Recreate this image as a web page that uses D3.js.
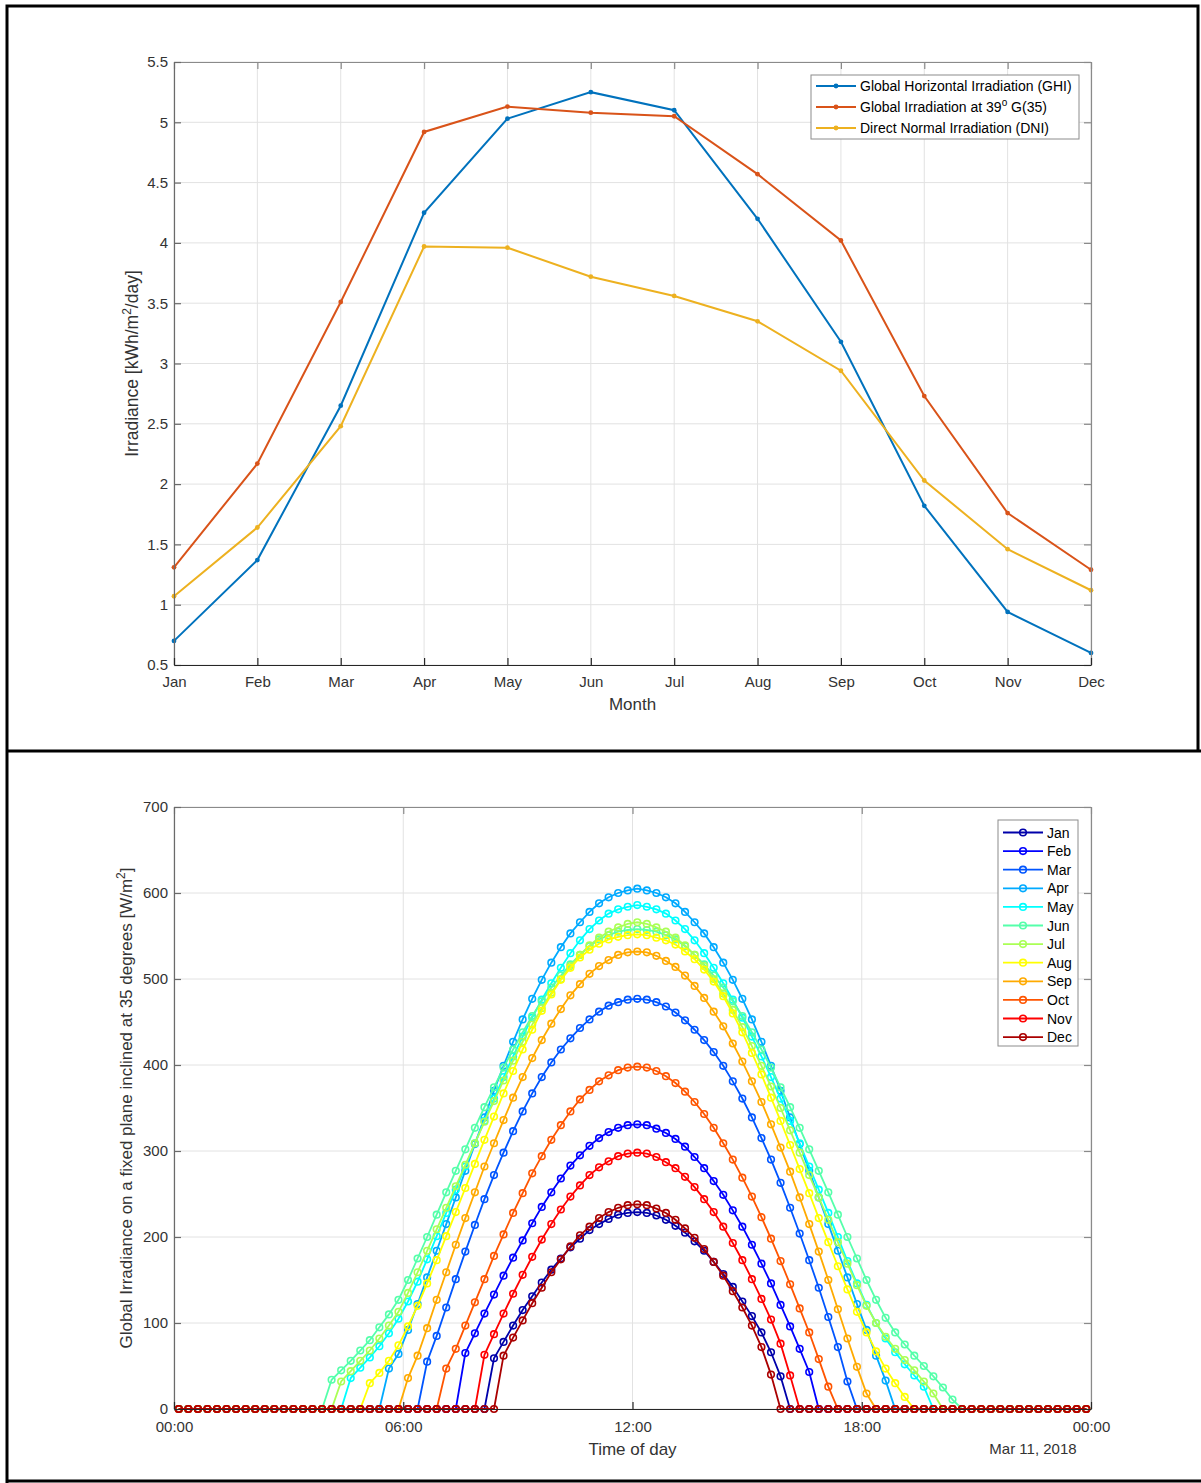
<!DOCTYPE html>
<html>
<head>
<meta charset="utf-8">
<script src="https://cdn.jsdelivr.net/npm/d3@7"></script>
<style>
  body { margin: 0; background: #fff; }
</style>
</head>
<body>
<script>
// ---- data -------------------------------------------------------------

var months = ["Jan", "Feb", "Mar", "Apr", "May", "Jun", "Jul", "Aug", "Sep", "Oct", "Nov", "Dec"];

// monthly mean daily irradiation, kWh/m2/day
var ghi = [0.70, 1.37, 2.65, 4.25, 5.03, 5.25, 5.10, 4.20, 3.18, 1.82, 0.94, 0.60];
var g35 = [1.31, 2.17, 3.51, 4.92, 5.13, 5.08, 5.05, 4.57, 4.02, 2.73, 1.76, 1.29];
var dni = [1.07, 1.64, 2.48, 3.97, 3.96, 3.72, 3.56, 3.35, 2.94, 2.03, 1.46, 1.12];

// daily profile on the 35 deg plane, W/m2, one value per 15 min slot
// (slot k is centred at k*15+7.5 min). values start at firstSlot, 0 elsewhere
var firstSlot = [33, 30, 26, 22, 18, 16, 17, 20, 24, 28, 32, 34];

var dayJan = [59,78,97,115,131,147,162,175,188,198,208,215,221,226,228,229,228,225,220,213,205,195,184,171,157,142,125,108,89,66,38];
var dayFeb = [65,88,111,133,155,176,196,216,235,252,268,283,295,306,315,322,327,330,331,330,326,321,314,305,293,280,265,249,231,212,191,169,146,121,96,70,43];
var dayMar = [55,85,118,151,183,214,244,272,298,323,346,367,386,403,418,431,443,453,462,469,473,476,477,476,473,468,461,452,441,429,415,399,381,361,339,315,290,263,234,204,173,141,107,72,32];
var dayApr = [47,64,92,122,153,184,215,246,277,308,339,370,399,427,453,477,499,519,537,553,566,578,588,595,600,603,605,603,600,595,588,578,566,553,537,519,499,477,453,427,399,370,339,308,277,246,215,184,153,122,92,62,33];
var dayMay = [36,48,60,73,88,105,125,148,174,201,228,255,282,309,335,361,386,410,433,455,476,495,513,530,545,558,568,576,581,584,586,584,581,576,568,558,545,530,513,495,476,455,433,410,386,361,335,309,282,255,228,200,172,146,121,100,82,66,52,39,26];
var dayJun = [34,45,56,68,80,95,110,127,150,175,200,226,252,277,302,327,351,374,397,418,438,457,474,490,504,517,528,538,546,551,555,557,558,557,555,551,546,538,528,517,504,490,474,457,438,418,397,374,351,327,302,277,252,226,200,175,150,127,106,89,75,62,50,38,25,11];
var dayJul = [32,44,56,68,82,97,113,135,159,184,209,234,259,284,309,334,358,382,405,427,447,466,484,500,515,528,539,548,555,560,564,566,564,560,555,548,539,528,515,500,483,464,444,422,399,375,350,324,298,272,246,220,194,169,144,120,100,84,70,57,45,32,18];
var dayAug = [30,42,56,74,96,120,146,173,201,229,257,285,313,340,367,393,418,441,463,482,499,513,525,534,541,546,549,551,552,551,548,545,540,532,523,511,497,480,460,438,414,389,362,335,307,279,251,222,194,166,139,113,89,67,47,30,14];
var daySep = [36,62,94,127,159,191,222,252,282,309,336,362,386,408,429,448,465,481,494,506,515,522,528,531,532,531,527,521,514,504,492,478,462,445,425,404,381,357,331,304,276,246,215,183,150,116,82,49,18];
var dayOct = [47,70,97,124,151,178,203,228,251,274,294,313,330,346,360,371,381,388,394,397,398,397,393,387,379,369,357,343,327,309,290,269,247,223,198,172,145,117,89,58,26];
var dayNov = [63,87,111,134,156,177,197,215,232,247,260,272,281,288,294,297,298,297,293,287,280,270,258,244,229,212,193,173,151,128,104,76,39];
var dayDec = [62,83,103,123,141,159,174,189,202,212,222,229,234,237,238,237,233,228,220,210,199,186,171,155,137,118,97,72,40];

var dayProfiles = [dayJan, dayFeb, dayMar, dayApr, dayMay, dayJun, dayJul, dayAug, daySep, dayOct, dayNov, dayDec];

// ---- setup ------------------------------------------------------------

var W = 1201, H = 1483;
var font = "'Liberation Sans', Arial, Helvetica, sans-serif";
var gridCol = "#e2e2e2";
var axisCol = "#6a6a6a";
var textCol = "#333";

var svg = d3.select("body").append("svg")
  .attr("width", W)
  .attr("height", H)
  .style("font-family", font);

// table borders round the two figures
svg.append("path")
  .attr("d", "M7,1483 V6 H1198 V751 M7,751 H1201 M7,1481 H1201")
  .attr("fill", "none")
  .attr("stroke", "#000")
  .attr("stroke-width", 3);

function styleAxis(g, col, size) {
  g.attr("font-family", font).attr("font-size", size || 15);
  g.select(".domain").attr("stroke", col).attr("stroke-width", 1.2);
  g.selectAll(".tick line").attr("stroke", col).attr("stroke-width", 1.2);
  g.selectAll(".tick text").attr("fill", textCol);
}

// ---- top chart: monthly irradiation -------------------------------------

var p1 = { l: 174, r: 1091, t: 62, b: 665 };
var x1 = d3.scalePoint().domain(months).range([p1.l, p1.r]);
var y1 = d3.scaleLinear().domain([0.5, 5.5]).range([p1.b, p1.t]);

var gTop = svg.append("g");

gTop.append("g").selectAll("line").data(months).join("line")
  .attr("x1", function(d) { return x1(d); })
  .attr("x2", function(d) { return x1(d); })
  .attr("y1", p1.t).attr("y2", p1.b)
  .attr("stroke", gridCol);
gTop.append("g").selectAll("line").data(y1.ticks(10)).join("line")
  .attr("x1", p1.l).attr("x2", p1.r)
  .attr("y1", function(d) { return y1(d); })
  .attr("y2", function(d) { return y1(d); })
  .attr("stroke", gridCol);

var topSeries = [
  { name: "Global Horizontal Irradiation (GHI)", values: ghi, color: "#0072BD" },
  { name: "Global Irradiation at 39", sup: "o", tail: " G(35)", values: g35, color: "#D95319" },
  { name: "Direct Normal Irradiation (DNI)", values: dni, color: "#EDB120" }
];

var line1 = d3.line()
  .x(function(d, i) { return x1(months[i]); })
  .y(function(d) { return y1(d); });

topSeries.forEach(function(s) {
  gTop.append("path")
    .attr("d", line1(s.values))
    .attr("fill", "none")
    .attr("stroke", s.color)
    .attr("stroke-width", 2);
  gTop.append("g").selectAll("circle").data(s.values).join("circle")
    .attr("cx", function(d, i) { return x1(months[i]); })
    .attr("cy", function(d) { return y1(d); })
    .attr("r", 2.4)
    .attr("fill", s.color);
});

gTop.append("g").attr("transform", "translate(0," + p1.t + ")")
  .call(d3.axisTop(x1).tickSizeInner(-7).tickSizeOuter(0).tickFormat(""))
  .call(styleAxis, "#8a8a8a");
gTop.append("g").attr("transform", "translate(" + p1.r + ",0)")
  .call(d3.axisRight(y1).ticks(10).tickSizeInner(-7).tickSizeOuter(0).tickFormat(""))
  .call(styleAxis, "#8a8a8a");
gTop.append("g").attr("transform", "translate(" + p1.l + ",0)")
  .call(d3.axisLeft(y1).ticks(10).tickSizeInner(-7).tickSizeOuter(0).tickPadding(6).tickFormat(d3.format("~g")))
  .call(styleAxis, axisCol);
gTop.append("g").attr("transform", "translate(0," + p1.b + ")")
  .call(d3.axisBottom(x1).tickSizeInner(-7).tickSizeOuter(0).tickPadding(11))
  .call(styleAxis, "#262626");

gTop.append("text")
  .attr("x", (p1.l + p1.r) / 2).attr("y", 710)
  .attr("text-anchor", "middle")
  .attr("font-size", 17).attr("fill", textCol)
  .text("Month");

var yl1 = gTop.append("text")
  .attr("transform", "translate(138," + ((p1.t + p1.b) / 2) + ") rotate(-90)")
  .attr("text-anchor", "middle")
  .attr("font-size", 17.5).attr("fill", textCol);
yl1.append("tspan").text("Irradiance [kWh/m");
yl1.append("tspan").attr("font-size", 12).attr("dy", -7).text("2");
yl1.append("tspan").attr("dy", 7).text("/day]");

// legend
var leg1 = gTop.append("g");
leg1.append("rect")
  .attr("x", 811).attr("y", 75).attr("width", 268).attr("height", 64)
  .attr("fill", "#fff").attr("stroke", "#8c8c8c").attr("stroke-width", 1);
topSeries.forEach(function(s, i) {
  var yy = 86 + i * 21;
  leg1.append("line")
    .attr("x1", 816).attr("x2", 856).attr("y1", yy).attr("y2", yy)
    .attr("stroke", s.color).attr("stroke-width", 2);
  leg1.append("circle").attr("cx", 836).attr("cy", yy).attr("r", 2.4).attr("fill", s.color);
  var t = leg1.append("text")
    .attr("x", 860).attr("y", yy + 5)
    .attr("font-size", 14).attr("fill", "#000");
  t.append("tspan").text(s.name);
  if (s.sup) {
    t.append("tspan").attr("font-size", 10).attr("dy", -6).text(s.sup);
    t.append("tspan").attr("dy", 6).text(s.tail);
  }
});

// ---- bottom chart: daily profile -----------------------------------------

var jet = ["#0000AA", "#0000FF", "#0055FF", "#00AAFF", "#00FFFF", "#55FFAA",
           "#AAFF55", "#FFFF00", "#FFAA00", "#FF5500", "#FF0000", "#AA0000"];

var t0 = Date.UTC(2018, 2, 11, 0, 0, 0);
var p2 = { l: 174, r: 1091, t: 807, b: 1409 };
var x2 = d3.scaleUtc().domain([new Date(t0), new Date(t0 + 864e5)]).range([p2.l, p2.r]);
var y2 = d3.scaleLinear().domain([0, 700]).range([p2.b, p2.t]);

var profile = months.map(function(m, i) {
  var prof = dayProfiles[i], s = firstSlot[i];
  return d3.range(96).map(function(k) {
    var v = (k >= s && k < s + prof.length) ? prof[k - s] : 0;
    return { t: new Date(t0 + (k * 15 + 7.5) * 60000), v: v };
  });
});

var gBot = svg.append("g");
var xTicks = x2.ticks(d3.utcHour.every(6));

gBot.append("g").selectAll("line").data(xTicks).join("line")
  .attr("x1", function(d) { return x2(d); })
  .attr("x2", function(d) { return x2(d); })
  .attr("y1", p2.t).attr("y2", p2.b)
  .attr("stroke", gridCol);
gBot.append("g").selectAll("line").data(y2.ticks(7)).join("line")
  .attr("x1", p2.l).attr("x2", p2.r)
  .attr("y1", function(d) { return y2(d); })
  .attr("y2", function(d) { return y2(d); })
  .attr("stroke", gridCol);

var line2 = d3.line()
  .x(function(d) { return x2(d.t); })
  .y(function(d) { return y2(d.v); });

profile.forEach(function(ser, i) {
  var g = gBot.append("g");
  g.append("path")
    .attr("d", line2(ser))
    .attr("fill", "none")
    .attr("stroke", jet[i])
    .attr("stroke-width", 1.8);
  g.selectAll("circle").data(ser).join("circle")
    .attr("cx", function(d) { return x2(d.t); })
    .attr("cy", function(d) { return y2(d.v); })
    .attr("r", 3.3)
    .attr("fill", "none")
    .attr("stroke", jet[i])
    .attr("stroke-width", 1.6);
});

gBot.append("g").attr("transform", "translate(0," + p2.t + ")")
  .call(d3.axisTop(x2).tickValues(xTicks).tickSizeInner(-7).tickSizeOuter(0).tickFormat(""))
  .call(styleAxis, "#8a8a8a");
gBot.append("g").attr("transform", "translate(" + p2.r + ",0)")
  .call(d3.axisRight(y2).ticks(7).tickSizeInner(-7).tickSizeOuter(0).tickFormat(""))
  .call(styleAxis, "#8a8a8a");
gBot.append("g").attr("transform", "translate(" + p2.l + ",0)")
  .call(d3.axisLeft(y2).ticks(7).tickSizeInner(-7).tickSizeOuter(0).tickPadding(6))
  .call(styleAxis, axisCol);
gBot.append("g").attr("transform", "translate(0," + p2.b + ")")
  .call(d3.axisBottom(x2).tickValues(xTicks).tickSizeInner(-7).tickSizeOuter(0).tickPadding(12)
    .tickFormat(d3.utcFormat("%H:%M")))
  .call(styleAxis, "#262626");

gBot.append("text")
  .attr("x", (p2.l + p2.r) / 2).attr("y", 1455)
  .attr("text-anchor", "middle")
  .attr("font-size", 17).attr("fill", textCol)
  .text("Time of day");
gBot.append("text")
  .attr("x", 1033).attr("y", 1454)
  .attr("text-anchor", "middle")
  .attr("font-size", 15).attr("fill", textCol)
  .text(d3.utcFormat("%b %-d, %Y")(new Date(t0)));

var yl2 = gBot.append("text")
  .attr("transform", "translate(132," + ((p2.t + p2.b) / 2) + ") rotate(-90)")
  .attr("text-anchor", "middle")
  .attr("font-size", 17).attr("fill", textCol);
yl2.append("tspan").text("Global Irradiance on a fixed plane inclined at 35 degrees [W/m");
yl2.append("tspan").attr("font-size", 12).attr("dy", -7).text("2");
yl2.append("tspan").attr("dy", 7).text("]");

// legend
var leg2 = gBot.append("g");
leg2.append("rect")
  .attr("x", 998).attr("y", 820).attr("width", 80).attr("height", 226)
  .attr("fill", "#fff").attr("stroke", "#8c8c8c").attr("stroke-width", 1);
months.forEach(function(m, i) {
  var yy = 832.5 + i * 18.6;
  leg2.append("line")
    .attr("x1", 1003).attr("x2", 1043).attr("y1", yy).attr("y2", yy)
    .attr("stroke", jet[i]).attr("stroke-width", 1.8);
  leg2.append("circle")
    .attr("cx", 1023).attr("cy", yy).attr("r", 3.3)
    .attr("fill", "none").attr("stroke", jet[i]).attr("stroke-width", 1.6);
  leg2.append("text")
    .attr("x", 1047).attr("y", yy + 5)
    .attr("font-size", 14).attr("fill", "#000")
    .text(m);
});
</script>
</body>
</html>
